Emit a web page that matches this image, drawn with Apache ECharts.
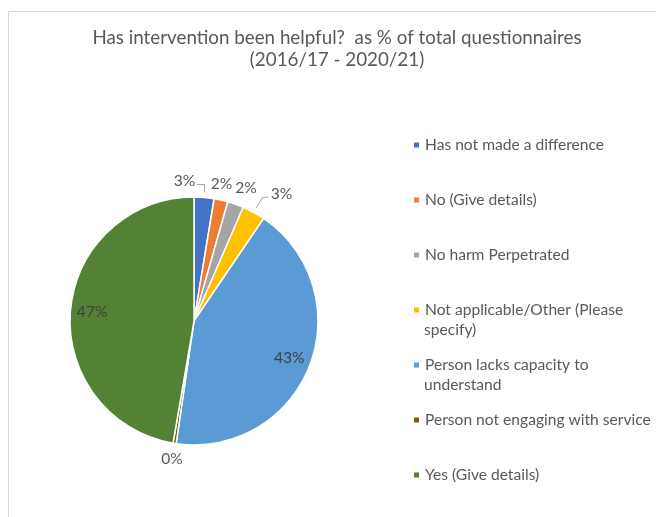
<!DOCTYPE html>
<html><head><meta charset="utf-8">
<script src="https://cdn.jsdelivr.net/npm/echarts@6/dist/echarts.min.js"></script>
<style>html,body{margin:0;padding:0;background:#fff}#c{width:656px;height:517px}</style>
</head><body><div id="c"></div>
<script>
const titleText = 'Has intervention been helpful?  as % of total questionnaires\n(2016/17 - 2020/21)';
const categories = ['Has not made a difference','No (Give details)','No harm Perpetrated','Not applicable/Other (Please specify)','Person lacks capacity to understand','Person not engaging with service','Yes (Give details)'];
const values = [2.6, 1.8, 2.1, 3.0, 42.8, 0.4, 47.3];
const colors = ['#4472C4','#ED7D31','#A5A5A5','#FFC000','#5B9BD5','#7F6000','#548235'];
const legendLines = [
  ['Has not made a difference'],
  ['No (Give details)'],
  ['No harm Perpetrated'],
  ['Not applicable/Other (Please','specify)'],
  ['Person lacks capacity to','understand'],
  ['Person not engaging with service'],
  ['Yes (Give details)']
];

const FONT = 'Lato';
const CX = 194, CY = 321, R = 124;
const LEG_X = 412, LEG_Y0 = 145, LEG_STEP = 55;
const LABEL_R = 140;
const labelShift = {0: [-21, 0], 1: [-3, 0], 2: [5, -1], 3: [20, -4]};
const labelWithLine = {0: true, 3: true};

const total = values.reduce((a, b) => a + b, 0);
const midAngles = (() => { let acc = 0; return values.map(v => { const a = (acc + v / 2) / total * 2 * Math.PI; acc += v; return a; }); })();

const chart = echarts.init(document.getElementById('c'));

const legends = categories.map((n, i) => ({
  data: [n],
  orient: 'vertical',
  left: LEG_X,
  top: LEG_Y0 + LEG_STEP * i - 9,
  padding: 0,
  icon: 'rect',
  itemWidth: 7,
  itemHeight: 7,
  selectedMode: false,
  formatter: () => legendLines[i][0],
  textStyle: {fontFamily: FONT, fontSize: 15.6, color: '#595959', lineHeight: 18}
}));

const graphics = [{
  type: 'rect', silent: true,
  shape: {x: 8.5, y: 11.5, width: 800, height: 700},
  style: {fill: 'none', stroke: '#D9D9D9', lineWidth: 1}
}];
legendLines.forEach((lines, i) => {
  for (let k = 1; k < lines.length; k++) {
    graphics.push({
      type: 'text', silent: true,
      x: LEG_X + 12, y: LEG_Y0 + LEG_STEP * i + 20 * k,
      style: {text: lines[k], fontFamily: FONT, fontSize: 15.6, fill: '#595959', verticalAlign: 'middle', align: 'left'}
    });
  }
});

chart.setOption({
  animation: false,
  title: {
    text: titleText, left: 337, top: 27, textAlign: 'center', padding: 0,
    textStyle: {fontFamily: FONT, fontSize: 18.8, fontWeight: 'normal', color: '#595959', lineHeight: 22}
  },
  legend: legends,
  graphic: graphics,
  series: [
    {
      type: 'pie',
      center: [CX, CY], radius: R,
      startAngle: 90, clockwise: true,
      avoidLabelOverlap: false,
      itemStyle: {borderColor: '#fff', borderWidth: 1.5},
      label: {
        show: true, position: 'outside',
        fontFamily: FONT, fontSize: 15.6, color: '#595959',
        formatter: p => p.percent < 10 ? Math.round(p.percent) + '%' : ''
      },
      labelLine: {show: true, length: 8, length2: 6, lineStyle: {color: '#A6A6A6', width: 1}},
      labelLayout: function (p) {
        const i = p.dataIndex;
        if (values[i] >= 10) return {};
        const a = midAngles[i];
        const s = labelShift[i] || [0, 0];
        const x = CX + LABEL_R * Math.sin(a) + s[0];
        const y = CY - LABEL_R * Math.cos(a) + s[1];
        const res = {x: x, y: y, align: 'center', verticalAlign: 'middle'};
        if (labelWithLine[i]) {
          const w = p.labelRect.width;
          const p0 = [CX + 129 * Math.sin(a), CY - 129 * Math.cos(a)];
          const ly = y + 3;
          if (s[0] < 0) {
            const ex = x + w / 2 + 2;
            res.labelLinePoints = [p0, [p0[0], ly], [ex, ly]];
          } else {
            const ex = x - w / 2 - 2;
            res.labelLinePoints = [p0, [ex - 6, ly], [ex, ly]];
          }
        }
        return res;
      },
      data: categories.map((n, i) => ({
        name: n, value: values[i], itemStyle: {color: colors[i]},
        label: {show: values[i] < 10},
        labelLine: {show: !!labelWithLine[i]}
      }))
    },
    {
      type: 'pie', silent: true,
      center: [CX, CY], radius: [R * 0.6, R],
      startAngle: 90, clockwise: true,
      itemStyle: {color: 'rgba(0,0,0,0)'},
      label: {
        show: true, position: 'inside',
        fontFamily: FONT, fontSize: 15.6, color: '#404040',
        formatter: p => p.percent >= 10 ? Math.round(p.percent) + '%' : ''
      },
      labelLine: {show: false},
      data: categories.map((n, i) => ({name: n, value: values[i]}))
    }
  ]
});
</script></body></html>
